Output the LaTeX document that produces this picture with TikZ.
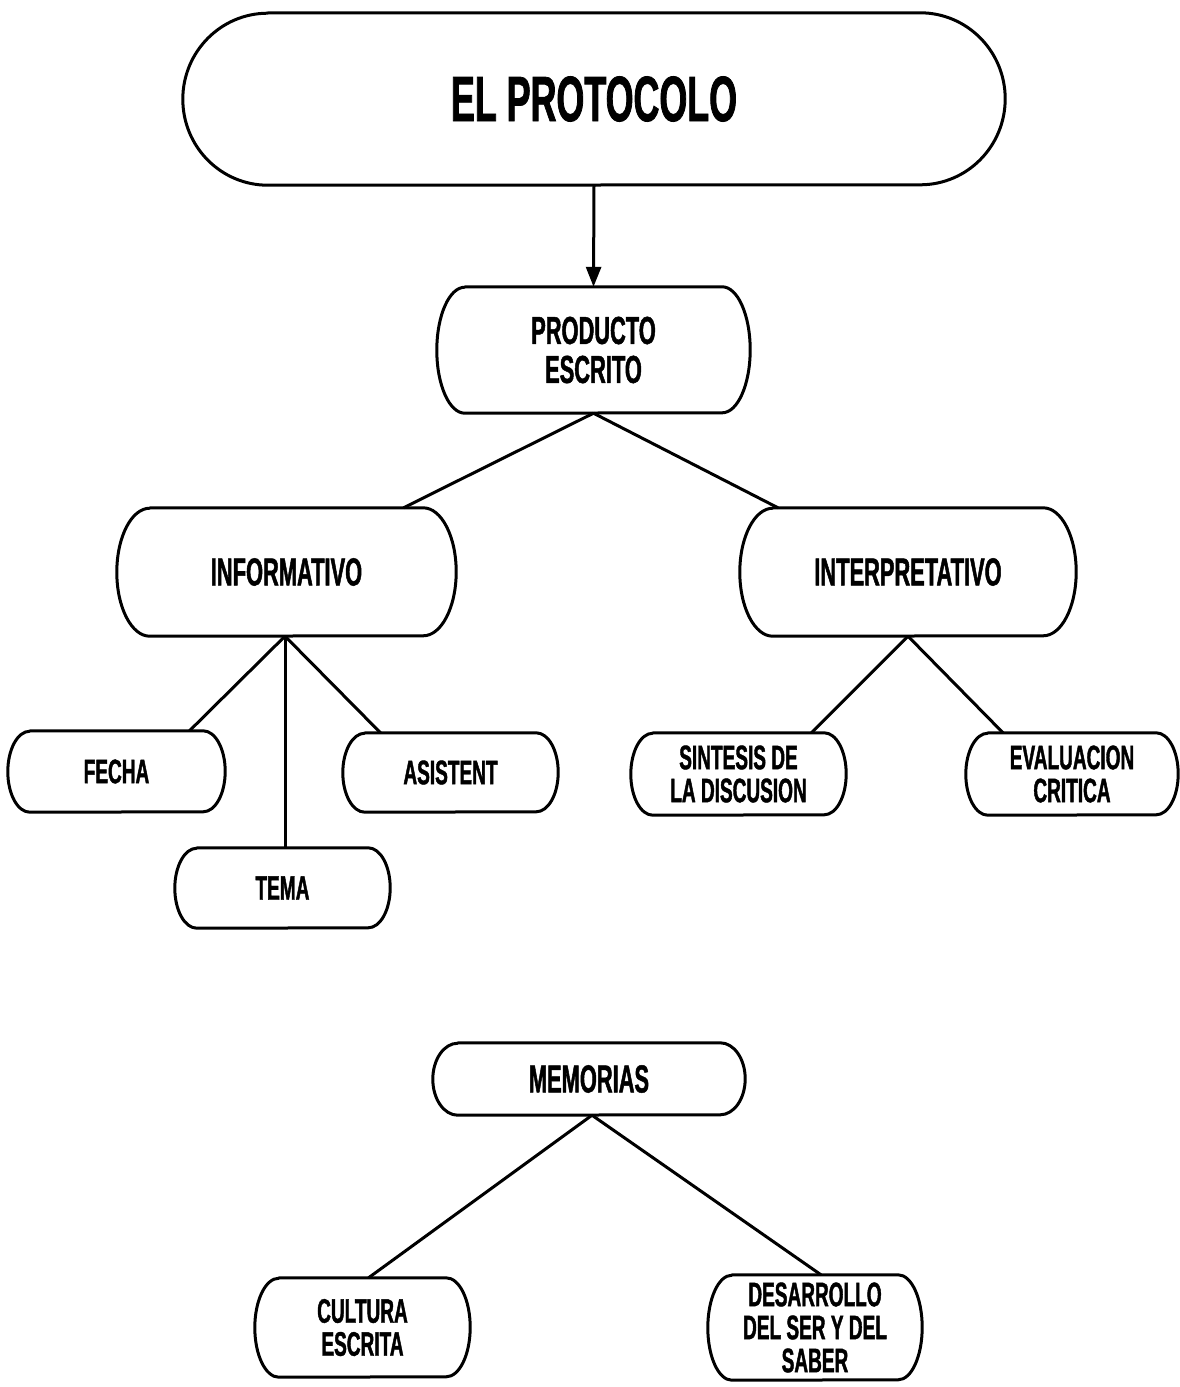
\documentclass[tikz,border=0pt]{standalone}
\usepackage{fontspec}
\usetikzlibrary{arrows.meta,calc}
\newfontfamily\condfont{Liberation Sans}[FakeStretch=0.56,FakeBold=1.2]
\newcommand\capsulebox[3]{% node name, bulge width, half height
  \draw[boxline] ($(#1.north west)+(#2,0)$) -- ($(#1.north east)+(-#2,0)$)
    arc[start angle=90,end angle=-90,x radius=#2pt,y radius=#3pt]
    -- ($(#1.south west)+(#2,0)$)
    arc[start angle=270,end angle=90,x radius=#2pt,y radius=#3pt] -- cycle;}
\begin{document}
\begin{tikzpicture}[x=1pt,y=-1pt,
  boxline/.style={line width=3pt, line join=round},
  conn/.style={line width=3pt},
  base/.style={inner sep=0pt, align=center, draw=none},
  titlebox/.style={base, font=\condfont\bfseries\fontsize{64}{64}\selectfont},
  mainbox/.style={base, font=\condfont\bfseries\fontsize{39}{39}\selectfont},
  smallbox/.style={base, font=\condfont\bfseries\fontsize{34}{33}\selectfont}]
\useasboundingbox (0,0) rectangle (1180,1387);
\fill[white] (0,0) rectangle (1180,1387);

\node[titlebox, minimum width=822pt, minimum height=172pt] (proto) at (594,99) {EL PROTOCOLO};
\node[mainbox, minimum width=313pt, minimum height=126pt] (prod) at (593.5,350) {PRODUCTO\\ESCRITO};
\node[mainbox, minimum width=339pt, minimum height=128pt] (info) at (286.5,572) {INFORMATIVO};
\node[mainbox, minimum width=336pt, minimum height=128pt] (interp) at (908,572) {INTERPRETATIVO};
\node[smallbox, minimum width=217pt, minimum height=81pt] (fecha) at (116.5,771.5) {FECHA};
\node[smallbox, minimum width=215pt, minimum height=79pt] (asist) at (450.5,772.5) {ASISTENT};
\node[smallbox, minimum width=215pt, minimum height=80pt] (tema) at (282.5,888) {TEMA};
\node[smallbox, minimum width=215pt, minimum height=82pt] (sint) at (738.5,774) {SINTESIS DE\\LA DISCUSION};
\node[smallbox, minimum width=212pt, minimum height=82pt] (eval) at (1072,774) {EVALUACION\\CRITICA};
\node[mainbox, minimum width=312pt, minimum height=72pt] (memo) at (589,1079) {MEMORIAS};
\node[smallbox, minimum width=215pt, minimum height=99pt] (cult) at (362.5,1327.5) {CULTURA\\ESCRITA};
\node[smallbox, minimum width=214pt, minimum height=105pt] (desa) at (815,1327.5) {DESARROLLO\\DEL SER Y DEL\\SABER};

\capsulebox{proto}{85}{86}
\capsulebox{prod}{28}{63}
\capsulebox{info}{33}{64}
\capsulebox{interp}{33}{64}
\capsulebox{fecha}{22}{40.5}
\capsulebox{asist}{22}{39.5}
\capsulebox{tema}{22}{40}
\capsulebox{sint}{22}{41}
\capsulebox{eval}{22}{41}
\capsulebox{memo}{25}{36}
\capsulebox{cult}{24}{49.5}
\capsulebox{desa}{24}{52.5}

\draw[conn, -{Triangle[width=15pt,length=20pt]}] (proto.south) -- (prod.north);
\draw[conn] (prod.south) -- ($(info.north)+(117,0)$);
\draw[conn] (prod.south) -- ($(interp.north)+(-130,0)$);
\draw[conn] ($(info.south)+(-1.5,0)$) coordinate (ib) -- ($(fecha.north)+(73,0)$);
\draw[conn] (ib) -- (tema.north -| ib);
\draw[conn] (ib) -- ($(asist.north)+(-70,0)$);
\draw[conn] (interp.south) -- ($(sint.north)+(73,0)$);
\draw[conn] (interp.south) -- ($(eval.north)+(-69,0)$);
\draw[conn] ($(memo.south)+(3,0)$) coordinate (mb) -- ($(cult.north)+(6,0)$);
\draw[conn] (mb) -- ($(desa.north)+(6,0)$);
\end{tikzpicture}
\end{document}
